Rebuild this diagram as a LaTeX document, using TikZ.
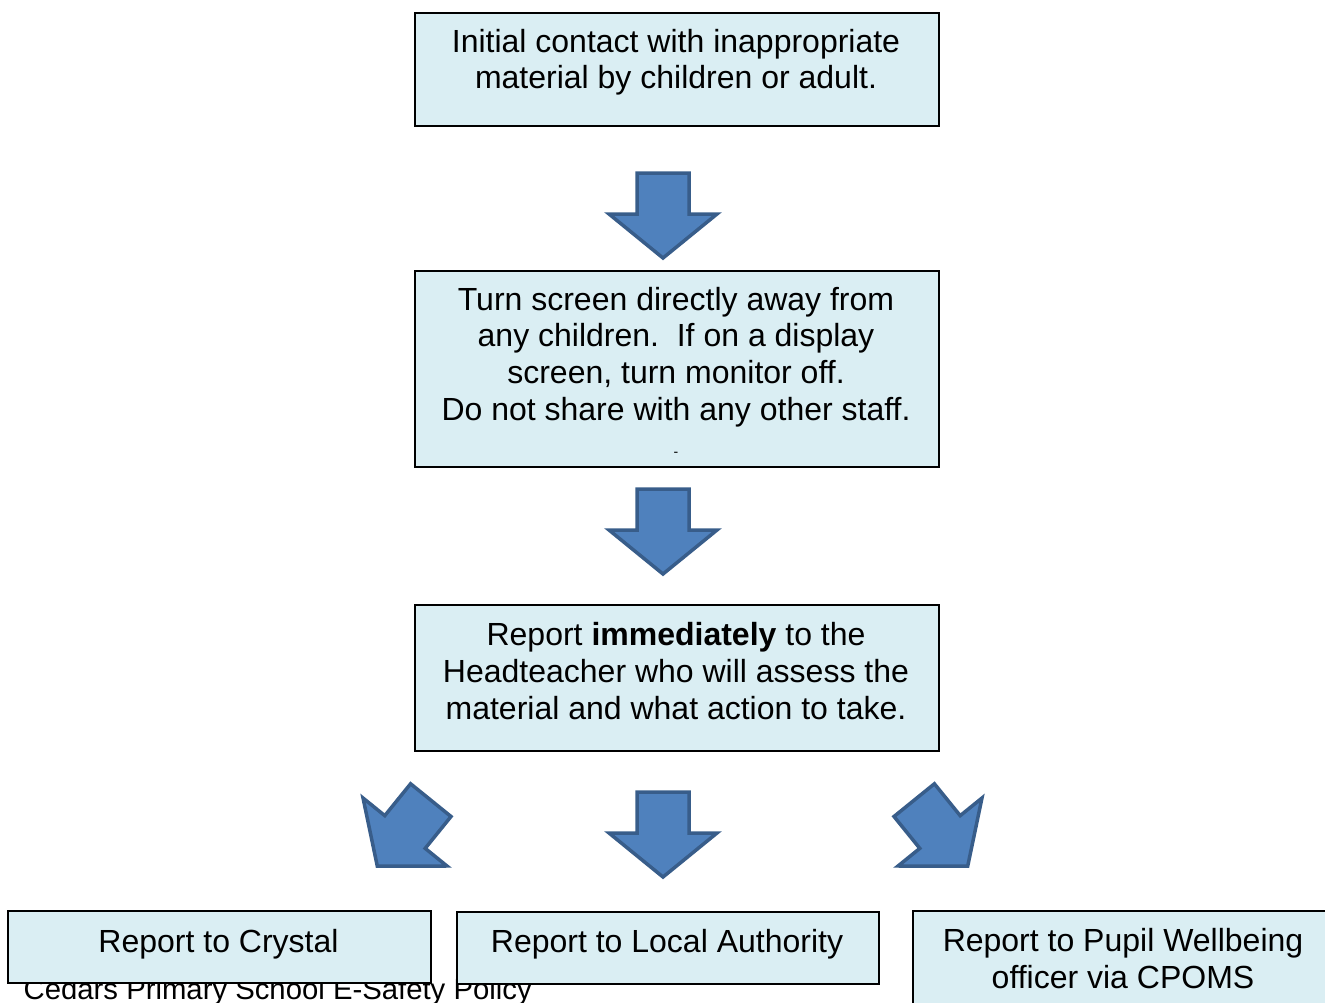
\documentclass[tikz,border=0pt]{standalone}
\usepackage{fontspec}
\setmainfont{Liberation Sans}
\definecolor{boxfill}{HTML}{DAEEF3}
\definecolor{arrowfill}{HTML}{4F81BD}
\definecolor{arrowline}{HTML}{385D8A}
\tikzset{
  box/.style={draw=black, line width=1.5pt, fill=boxfill, inner sep=0pt, anchor=north west},
  txt/.style={align=center, inner sep=0pt, anchor=north, font=\fontsize{32}{36.8}\selectfont},
  blockarrow/.style={fill=arrowfill, draw=arrowline, line width=3.5pt, line join=miter},
  pics/blockdown/.style={code={
    \draw[blockarrow] (-26,-41) -- (26,-41) -- (26,0) -- (54,0) -- (0,44) -- (-54,0) -- (-26,0) -- cycle;
  }}
}
\begin{document}
\begin{tikzpicture}[x=1pt,y=-1pt]
\useasboundingbox (0,0) rectangle (1325,1002);
\clip (0,0) rectangle (1325,1002);
% footer text (behind the boxes)
\node[inner sep=0pt, anchor=base west, font=\fontsize{29.3}{33.7}\selectfont] (footer) at (23.5,999) {Cedars Primary School E-Safety Policy};
% boxes
\node[box, minimum width=524pt, minimum height=113pt] (b1) at (414,12) {};
\node[box, minimum width=524pt, minimum height=196pt] (b2) at (414,270) {};
\node[box, minimum width=524pt, minimum height=146pt] (b3) at (414,604) {};
\node[box, minimum width=423pt, minimum height=72pt] (b4) at (7,910) {};
\node[box, minimum width=422pt, minimum height=72pt] (b5) at (456,911) {};
\node[box, minimum width=430pt, minimum height=110pt] (b6) at (912,910) {};
% texts
\node[txt] (t1) at (676,28.8) {Initial contact with inappropriate\\material by children or adult.};
\node[txt] (t2) at (676,286.7) {Turn screen directly away from\\any children.\ \ If on a display\\screen, turn monitor off.\\Do not share with any other staff.};
\node[inner sep=0pt, font=\fontsize{14}{16}\selectfont] (dash) at (676,454) {-};
\node[txt] (t3) at (676,622.1) {Report \textbf{immediately} to the\\Headteacher who will assess the\\material and what action to take.};
\node[txt] (t4) at (218.5,929.1) {Report to Crystal};
\node[txt] (t5) at (667,929.1) {Report to Local Authority};
\node[txt] (t6) at (1123,928.1) {Report to Pupil Wellbeing\\officer via CPOMS};
% block arrows
\pic at (663,214) {blockdown};
\pic at (663,530) {blockdown};
\pic at (663,833) {blockdown};
\pic[rotate=-39] at (405,832) {blockdown};
\pic[rotate=39] at (940,832) {blockdown};
\end{tikzpicture}
\end{document}
